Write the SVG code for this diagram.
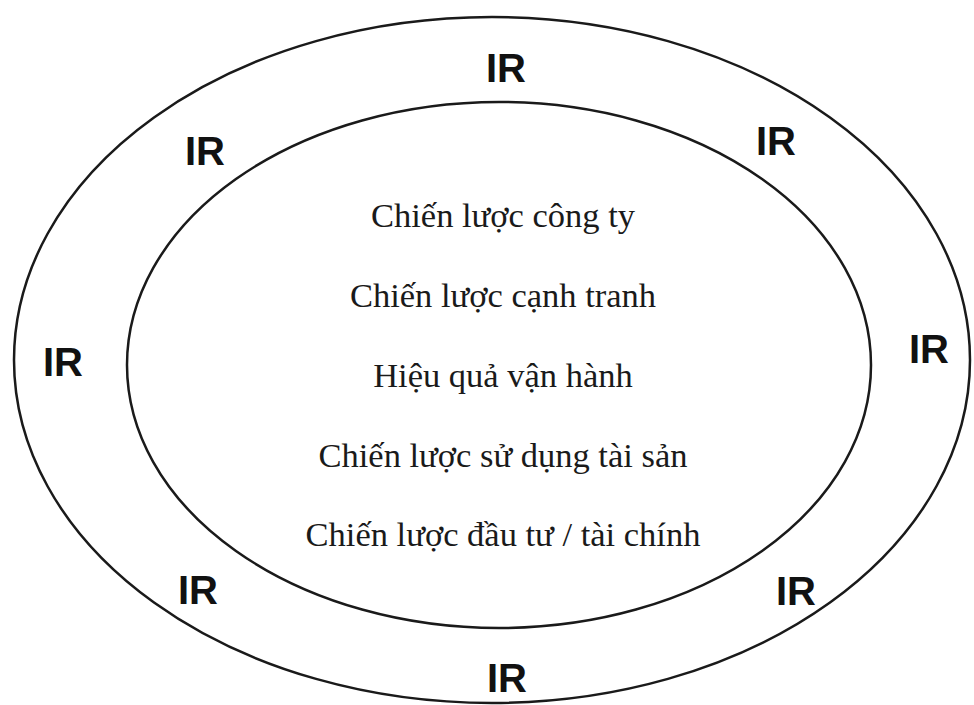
<svg xmlns="http://www.w3.org/2000/svg" width="974" height="705" viewBox="0 0 974 705">
<style>
.ring{fill:none;stroke:#1a1a1a;stroke-width:2.5}
.ir{font-family:"Liberation Sans",Arial,sans-serif;font-weight:bold;font-size:40px;fill:#111;text-anchor:middle}
.item{font-family:"Liberation Serif","Times New Roman",serif;font-size:34.5px;fill:#1a1a1a;text-anchor:middle}
</style>
<rect width="974" height="705" fill="#fff"/>
<g id="outer">
<ellipse class="ring" cx="492" cy="360" rx="478" ry="343"/>
<text class="ir" x="506" y="82">IR</text>
<text class="ir" x="205" y="165">IR</text>
<text class="ir" x="776" y="155">IR</text>
<text class="ir" x="63" y="376">IR</text>
<text class="ir" x="929" y="363">IR</text>
<text class="ir" x="198" y="604">IR</text>
<text class="ir" x="796" y="605">IR</text>
<text class="ir" x="507" y="692">IR</text>
</g>
<g id="inner">
<ellipse class="ring" cx="499" cy="365" rx="372" ry="263"/>
<text class="item" x="503" y="227">Chiến lược công ty</text>
<text class="item" x="503" y="307">Chiến lược cạnh tranh</text>
<text class="item" x="503" y="387">Hiệu quả vận hành</text>
<text class="item" x="503" y="467">Chiến lược sử dụng tài sản</text>
<text class="item" x="503" y="546">Chiến lược đầu tư / tài chính</text>
</g>
<g id="connectors"/>
</svg>
